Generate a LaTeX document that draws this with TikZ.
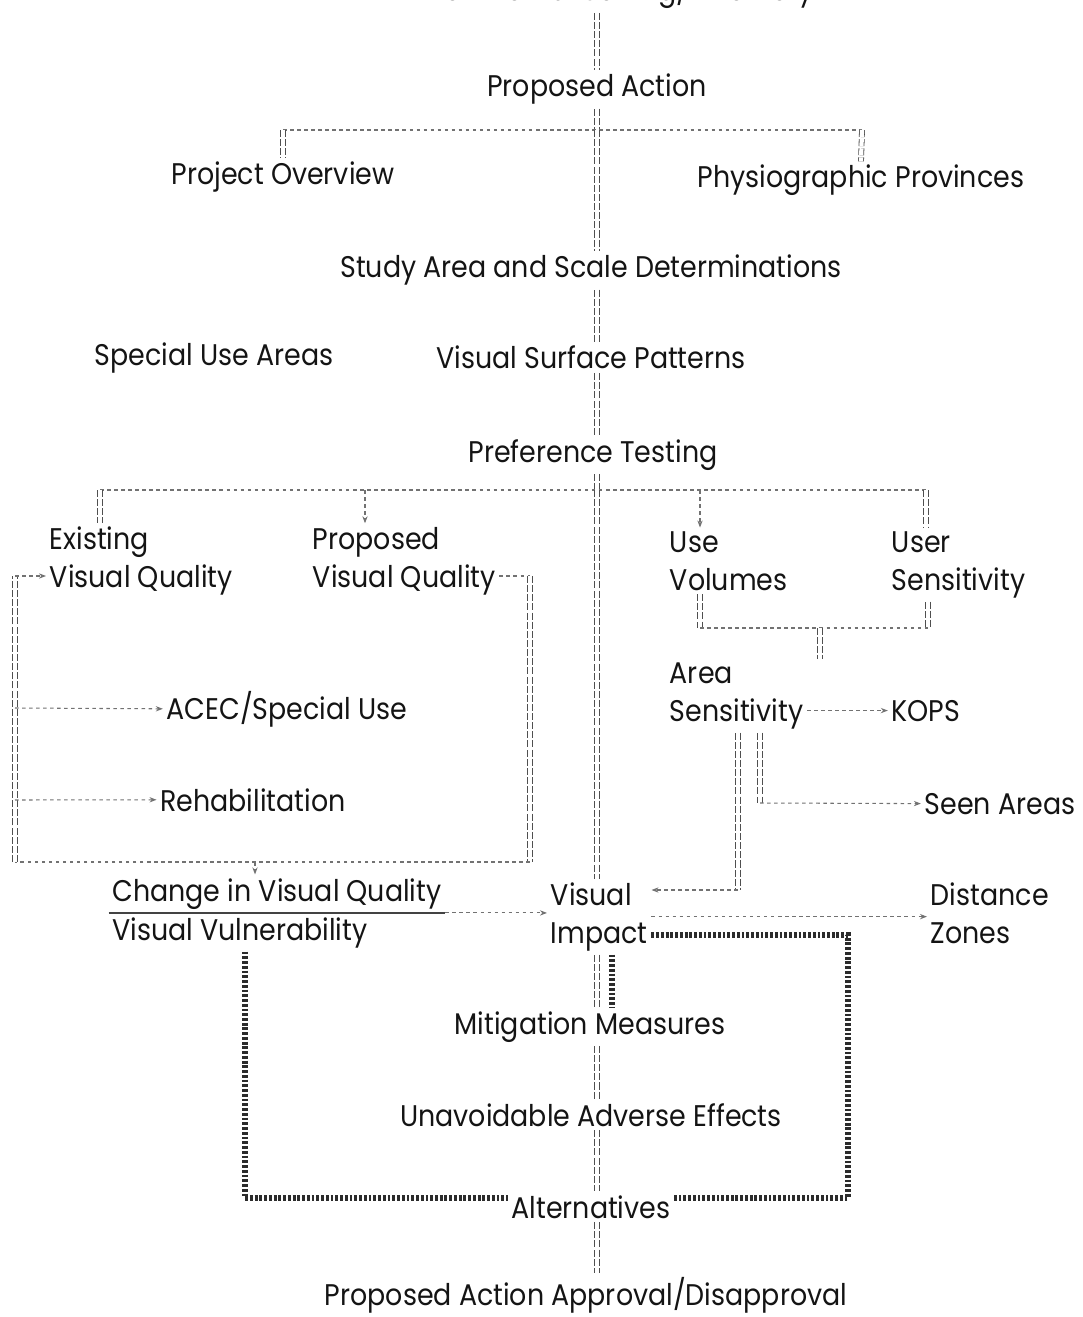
\documentclass[tikz,border=0pt]{standalone}
\usepackage{fontspec}
\setmainfont{Poppins}[FakeStretch=0.9]
\usetikzlibrary{arrows.meta}
\definecolor{scanink}{rgb}{0.08, 0.08, 0.08}
\tikzset{lbl/.style={font=\fontsize{17}{21.5}\selectfont, text=scanink, inner sep=2pt}}
\tikzset{mlbl/.style={lbl, align=left}}
\tikzset{dlink/.style={draw=scanink!75, line width=0.45pt, double distance=2.4pt, dash pattern=on 4pt off 1.2pt}}
\tikzset{tlink/.style={draw=scanink!60, line width=0.6pt, dash pattern=on 2pt off 2pt}}
\tikzset{blink/.style={draw=scanink!90, line width=3pt, dash pattern=on 1.6pt off 1.1pt}}
\tikzset{tip/.style={-{Stealth[length=4pt, width=3pt]}}}

\begin{document}
\begin{tikzpicture}[x=0.02cm, y=-0.02cm]
    \useasboundingbox (0,0) rectangle (1082,1317);

    % main column
    \node[lbl, anchor=base] (env) at (598, 1) {Environmental Setting/Inventory};
    \node[lbl, anchor=base] (pa) at (597, 97) {Proposed Action};
    \node[lbl, anchor=base] (po) at (283, 185) {Project Overview};
    \node[lbl, anchor=base] (pp) at (861, 188) {Physiographic Provinces};
    \node[lbl, anchor=base] (sa) at (591, 278) {Study Area and Scale Determinations};
    \node[lbl, anchor=base] (su) at (214, 366) {Special Use Areas};
    \node[lbl, anchor=base] (vs) at (591, 369) {Visual Surface Patterns};
    \node[lbl, anchor=base] (pt) at (593, 462) {Preference Testing};

    % quality and sensitivity branches
    \node[mlbl, anchor=base west] (evq) at (46, 587) {Existing\\Visual Quality};
    \node[mlbl, anchor=base west] (pvq) at (309, 587) {Proposed\\Visual Quality};
    \node[mlbl, anchor=base west] (uv) at (666, 590) {Use\\Volumes};
    \node[mlbl, anchor=base west] (us) at (888, 590) {User\\Sensitivity};
    \node[mlbl, anchor=base west] (as) at (666, 721) {Area\\Sensitivity};
    \node[lbl, anchor=base] (kops) at (926, 721) {KOPS};
    \node[lbl, anchor=base] (acec) at (287, 719) {ACEC/Special Use};
    \node[lbl, anchor=base] (reh) at (253, 811) {Rehabilitation};
    \node[lbl, anchor=base] (seen) at (1000, 814) {Seen Areas};

    % impact row
    \node[lbl, anchor=base] (chg) at (277, 901) {Change in Visual Quality};
    \node[lbl, anchor=base] (vul) at (240, 940) {Visual Vulnerability};
    \node[mlbl, anchor=base west] (vi) at (547, 943) {Visual\\Impact};
    \node[mlbl, anchor=base west] (dz) at (927, 943) {Distance\\Zones};

    % lower column
    \node[lbl, anchor=base] (mm) at (590, 1034) {Mitigation Measures};
    \node[lbl, anchor=base] (ua) at (591, 1126) {Unavoidable Adverse Effects};
    \node[lbl, anchor=base] (alt) at (591, 1218) {Alternatives};
    \node[lbl, anchor=base] (pad) at (586, 1305) {Proposed Action Approval/Disapproval};

    % corner points
    \coordinate (axis) at (597, 0);
    \coordinate (pasplit) at (597, 130);
    \coordinate (pal) at (283, 130);
    \coordinate (par) at (862, 130);
    \coordinate (ptsplit) at (597, 490);
    \coordinate (ptl) at (100, 490);
    \coordinate (ptp) at (365, 490);
    \coordinate (ptu) at (700, 490);
    \coordinate (ptr) at (926, 490);
    \coordinate (uvb) at (700, 628);
    \coordinate (usb) at (928, 628);
    \coordinate (asin) at (820, 628);
    \coordinate (rtop) at (530, 576);
    \coordinate (rbot) at (530, 862);
    \coordinate (lbot) at (15, 862);
    \coordinate (ltop) at (15, 576);
    \coordinate (lacec) at (15, 708);
    \coordinate (lreh) at (15, 800);
    \coordinate (chgin) at (255, 862);
    \coordinate (seenb) at (760, 803);
    \coordinate (vib) at (738, 890);
    \coordinate (bx1) at (848, 935);
    \coordinate (bx2) at (848, 1198);
    \coordinate (bx3) at (245, 1198);

    \draw [dlink] (env.south -| axis) -- (pa.north -| axis);
    \draw [dlink] (pa.south -| axis) -- (pasplit);
    \draw [tlink] (pal) -- (par);
    \draw [dlink] (pal) -- (po.north);
    \draw [dlink] (par) -- (pp.north);
    \draw [dlink] (pasplit) -- (sa.north -| axis);
    \draw [dlink] (sa.south -| axis) -- (vs.north -| axis);
    \draw [dlink] (vs.south -| axis) -- (pt.north -| axis);

    \draw [dlink] (pt.south -| axis) -- (ptsplit);
    \draw [tlink] (ptl) -- (ptr);
    \draw [dlink] (ptl) -- (ptl |- evq.north);
    \draw [tlink, tip] (ptp) -- (ptp |- pvq.north);
    \draw [tlink, tip] (ptu) -- (ptu |- uv.north);
    \draw [dlink] (ptr) -- (ptr |- us.north);
    \draw [dlink] (ptsplit) -- (ptsplit |- vi.north);

    \draw [dlink] (uvb |- uv.south) -- (uvb);
    \draw [dlink] (usb |- us.south) -- (usb);
    \draw [tlink] (uvb) -- (usb);
    \draw [dlink] (asin) -- (asin |- as.north);
    \draw [tlink, tip] (as.east |- kops.west) -- (kops.west);
    \draw [dlink] (seenb |- as.south) -- (seenb);
    \draw [tlink, tip] (seenb) -- (seen.west);
    \draw [dlink] (vib |- as.south) -- (vib);
    \draw [tlink, tip] (vib) -- (vib -| vi.east);

    \draw [tlink] (pvq.east |- rtop) -- (rtop);
    \draw [dlink] (rtop) -- (rbot);
    \draw [tlink] (rbot) -- (lbot);
    \draw [dlink] (lbot) -- (ltop);
    \draw [tlink, tip] (ltop) -- (evq.west |- ltop);
    \draw [tlink, tip] (lacec) -- (acec.west);
    \draw [tlink, tip] (lreh) -- (reh.west);
    \draw [tlink, tip] (chgin) -- (chgin |- chg.north);

    \draw [scanink!80, line width=0.7pt] (chg.south west) -- (chg.south east);
    \draw [tlink, tip] (chg.south east) -- (chg.south east -| vi.west);
    \draw [tlink, tip] (vi.east) -- (vi.east -| dz.west);

    \draw [blink] (vi.east |- bx1) -- (bx1) -- (bx2) -- (alt.east |- bx2);
    \draw [blink] (bx3 |- vul.south) -- (bx3) -- (alt.west |- bx3);

    \draw [dlink] (vi.south -| axis) -- (mm.north -| axis);
    \draw [blink] ([xshift=0.3cm]vi.south -| axis) -- ([xshift=0.3cm]mm.north -| axis);
    \draw [dlink] (mm.south -| axis) -- (ua.north -| axis);
    \draw [dlink] (ua.south -| axis) -- (alt.north -| axis);
    \draw [dlink] (alt.south -| axis) -- (pad.north -| axis);
\end{tikzpicture}
\end{document}
